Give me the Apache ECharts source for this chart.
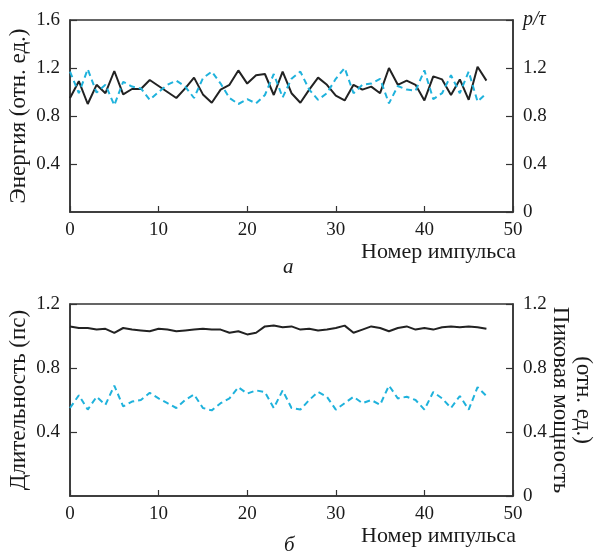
<!DOCTYPE html>
<html><head><meta charset="utf-8">
<script src="https://cdn.jsdelivr.net/npm/echarts@6/dist/echarts.min.js"></script>
<style>html,body{margin:0;padding:0;background:#fff}#c{width:595px;height:557px}</style>
</head><body><div id="c"></div>
<script>
const pulseIdx = Array.from({length: 48}, (_, i) => i);
const energy = [0.95,1.09,0.90,1.06,0.99,1.175,0.98,1.025,1.025,1.10,1.05,1.00,0.95,1.03,1.12,0.98,0.91,1.02,1.06,1.18,1.07,1.14,1.15,0.975,1.17,0.99,0.91,1.02,1.12,1.06,0.97,0.93,1.06,1.02,1.045,0.99,1.20,1.06,1.095,1.06,0.93,1.13,1.105,0.975,1.105,0.935,1.21,1.095];
const pTau = [1.17,0.99,1.19,0.995,1.06,0.89,1.085,1.045,1.03,0.935,1.00,1.06,1.095,1.045,0.95,1.115,1.17,1.07,0.95,0.90,0.94,0.905,0.975,1.15,0.955,1.11,1.17,1.02,0.935,0.99,1.11,1.20,0.99,1.06,1.07,1.11,0.905,1.05,1.02,1.01,1.18,0.94,0.99,1.14,0.99,1.17,0.92,0.99];
const duration = [1.06,1.05,1.05,1.04,1.045,1.02,1.05,1.04,1.035,1.03,1.045,1.04,1.03,1.035,1.04,1.045,1.04,1.04,1.02,1.03,1.01,1.02,1.06,1.065,1.055,1.06,1.04,1.045,1.035,1.04,1.05,1.065,1.02,1.04,1.06,1.05,1.03,1.05,1.06,1.04,1.05,1.04,1.055,1.06,1.055,1.06,1.055,1.045];
const peakPower = [0.55,0.63,0.54,0.62,0.57,0.69,0.56,0.59,0.60,0.645,0.61,0.58,0.55,0.60,0.635,0.55,0.535,0.58,0.61,0.68,0.64,0.66,0.65,0.55,0.66,0.55,0.54,0.60,0.65,0.62,0.54,0.58,0.62,0.58,0.60,0.57,0.69,0.61,0.62,0.60,0.54,0.65,0.61,0.55,0.625,0.54,0.68,0.625];
const xTitle = 'Номер импульса';
const topLeftName = 'Энергия (отн. ед.)';
const topRightName = 'p/τ';
const botLeftName = 'Длительность (пс)';
const botRightName = 'Пиковая мощность';
const botRightName2 = '(отн. ед.)';

const FONT = 'Liberation Serif';
const TXT = '#1a1a1a';
const AX = '#333';
const BLACK = '#222';
const CYAN = '#1fb2dc';
const pair = arr => arr.map((v, i) => [pulseIdx[i], v]);

const chart = echarts.init(document.getElementById('c'), null, {renderer: 'canvas'});
const lbl = {fontFamily: FONT, fontSize: 19, color: TXT};
const nameStyle = {fontFamily: FONT, fontSize: 23, color: TXT};
function xAx(gi) {
  return {gridIndex: gi, type: 'value', min: 0, max: 50, interval: 10,
    axisLine: {show: true, lineStyle: {color: AX, width: 1.5}},
    axisTick: {show: true, inside: true, length: 6, lineStyle: {color: AX, width: 1.2}},
    axisLabel: Object.assign({margin: 9}, lbl), splitLine: {show: false}};
}
function yAx(gi, pos, max, opts) {
  return Object.assign({gridIndex: gi, type: 'value', position: pos, min: 0, max: max, interval: 0.4,
    axisLine: {show: true, lineStyle: {color: AX, width: 1.5}},
    axisTick: {show: true, inside: true, length: 7, lineStyle: {color: AX, width: 1.2}},
    splitLine: {show: false}, nameMoveOverlap: false,
    nameTextStyle: nameStyle}, opts);
}
chart.setOption({
  animation: false,
  backgroundColor: '#fff',
  grid: [
    {left: 70, right: 82, top: 20, height: 192, show: true, borderColor: AX, borderWidth: 1.5, containLabel: false, outerBoundsMode: 'none'},
    {left: 70, right: 82, top: 304, height: 192, show: true, borderColor: AX, borderWidth: 1.5, containLabel: false, outerBoundsMode: 'none'}
  ],
  xAxis: [xAx(0), xAx(1)],
  yAxis: [
    yAx(0, 'left', 1.6, {name: topLeftName, nameLocation: 'middle', nameGap: 40,
      axisLabel: Object.assign({margin: 10, showMinLabel: false, formatter: v => v.toFixed(1)}, lbl)}),
    yAx(0, 'right', 1.6, {
      axisLabel: Object.assign({margin: 10, formatter: v => (Math.abs(v - 1.6) < 1e-6 ? '{i|' + topRightName + '}' : (v === 0 ? '0' : v.toFixed(1))),
        rich: {i: {fontFamily: FONT, fontSize: 20, fontStyle: 'italic', color: TXT}}}, lbl)}),
    yAx(1, 'left', 1.2, {name: botLeftName, nameLocation: 'middle', nameGap: 40,
      axisLabel: Object.assign({margin: 10, showMinLabel: false, formatter: v => v.toFixed(1)}, lbl)}),
    yAx(1, 'right', 1.2, {name: botRightName2 + '\n' + botRightName, nameLocation: 'middle', nameGap: 36, nameRotate: -90,
      nameTextStyle: Object.assign({lineHeight: 23}, nameStyle),
      axisLabel: Object.assign({margin: 10, formatter: v => (v === 0 ? '0' : v.toFixed(1))}, lbl)})
  ],
  series: [
    {type: 'line', xAxisIndex: 0, yAxisIndex: 0, data: pair(energy), symbol: 'none',
      lineStyle: {color: BLACK, width: 2}},
    {type: 'line', xAxisIndex: 0, yAxisIndex: 1, data: pair(pTau), symbol: 'none',
      lineStyle: {color: CYAN, width: 2, type: [6, 4]}},
    {type: 'line', xAxisIndex: 1, yAxisIndex: 2, data: pair(duration), symbol: 'none',
      lineStyle: {color: BLACK, width: 2}},
    {type: 'line', xAxisIndex: 1, yAxisIndex: 3, data: pair(peakPower), symbol: 'none',
      lineStyle: {color: CYAN, width: 2, type: [6, 4]}}
  ],
  graphic: [
    {type: 'text', right: 79, top: 241, style: {text: xTitle, font: '22px "Liberation Serif"', fill: TXT}},
    {type: 'text', left: 283, top: 257, style: {text: 'а', font: 'italic 21px "Liberation Serif"', fill: TXT}},
    {type: 'text', right: 79, top: 525, style: {text: xTitle, font: '22px "Liberation Serif"', fill: TXT}},
    {type: 'text', left: 284, top: 535, style: {text: 'б', font: 'italic 21px "Liberation Serif"', fill: TXT}}
  ]
});
</script>
</body></html>
